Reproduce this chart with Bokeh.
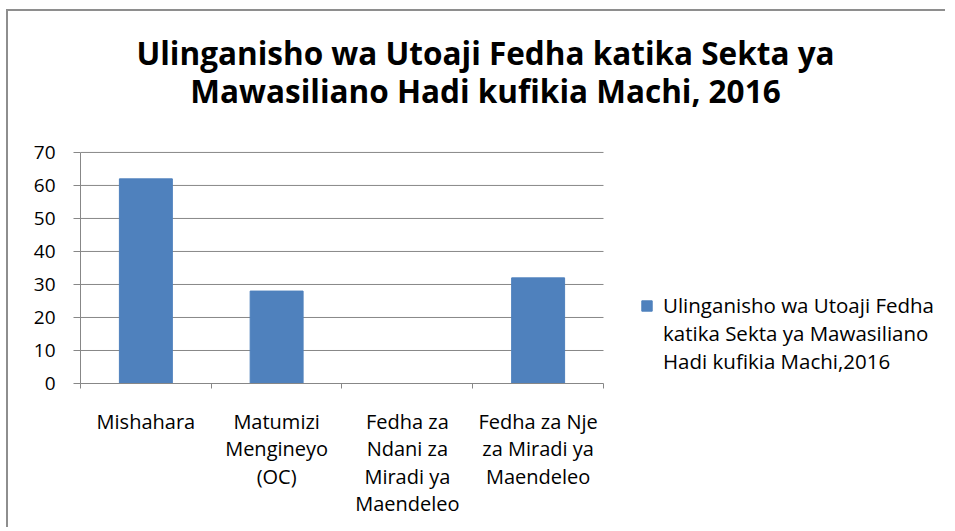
from bokeh.plotting import figure
from bokeh.models import (Range1d, FixedTicker, Label, Legend, LegendItem,
                          ColumnDataSource)
from bokeh.embed import file_html
from bokeh.resources import INLINE

categories = ["Mishahara",
              "Matumizi\nMengineyo\n(OC)",
              "Fedha za\nNdani za\nMiradi ya\nMaendeleo",
              "Fedha za Nje\nza Miradi ya\nMaendeleo"]
values = [62, 28, 0, 32]
y_ticks = [0, 10, 20, 30, 40, 50, 60, 70]
series_name = "Ulinganisho wa Utoaji Fedha\nkatika Sekta ya Mawasiliano\nHadi kufikia Machi,2016"
title_lines = ["Ulinganisho wa Utoaji Fedha katika Sekta ya",
               "Mawasiliano Hadi kufikia Machi, 2016"]

FONT = "Open Sans"
GRAY = "#878787"
BLUE = "#4f81bd"

n = len(categories)
centers = [i + 0.5 for i in range(n)]
edges = list(range(n + 1))
source = ColumnDataSource(data=dict(x=centers, val=values, cat=categories))

# frame: the plot area plus the free space to its right and above
p = figure(x_range=Range1d(0, 6.631), y_range=Range1d(0, 112.7),
           width=939, height=518, output_backend="svg", toolbar_location=None,
           min_border_left=72, min_border_right=0, min_border_top=0,
           min_border_bottom=146,
           styles={"margin-left": "6px", "margin-top": "9px",
                   "border-left": "2px solid #8e8e8e", "border-top": "2px solid #8e8e8e"})
p.outline_line_color = None
p.background_fill_color = "white"
p.border_fill_color = "white"
p.xgrid.grid_line_color = None
p.ygrid.grid_line_color = None

# horizontal gridlines over the category area only
p.segment(x0=0, x1=n, y0=y_ticks[1:], y1=y_ticks[1:], line_color=GRAY, line_width=1)

r = p.vbar(x="x", top="val", width=0.405, source=source,
           fill_color=BLUE, line_color=BLUE)

# y axis
p.yaxis.bounds = (y_ticks[0], y_ticks[-1])
p.yaxis.ticker = FixedTicker(ticks=y_ticks)
p.yaxis.major_tick_out = 7
p.yaxis.major_tick_in = 0
p.yaxis.minor_tick_line_color = None
p.yaxis.axis_line_color = GRAY
p.yaxis.major_tick_line_color = GRAY
p.yaxis.major_label_standoff = 18
p.yaxis.major_label_text_font = FONT
p.yaxis.major_label_text_font_size = "19px"
p.yaxis.major_label_text_color = "#000000"

# x axis: labels at category centres, tick marks at category boundaries
p.xaxis.bounds = (0, n)
p.xaxis.ticker = FixedTicker(ticks=centers, minor_ticks=edges)
p.xaxis.major_label_overrides = {c: lab for c, lab in zip(centers, categories)}
p.xaxis.axis_line_color = GRAY
p.xaxis.major_tick_line_color = None
p.xaxis.major_tick_out = 5
p.xaxis.minor_tick_line_color = GRAY
p.xaxis.minor_tick_out = 5
p.xaxis.minor_tick_in = 0
p.xaxis.major_label_text_font = FONT
p.xaxis.major_label_text_font_size = "20px"
p.xaxis.major_label_text_color = "#000000"
p.xaxis.major_label_text_line_height = 1.02
p.xaxis.major_label_standoff = 19

# title (two centred lines)
for txt, yy in zip(title_lines, [100.2, 88.8]):
    p.add_layout(Label(x=3.0975, y=yy, text=txt, text_align="center",
                       text_baseline="alphabetic", text_font=FONT,
                       text_font_style="bold", text_font_size="31.5px",
                       text_color="#000000"))

# legend: two empty leading lines keep the square level with the first text line
legend = Legend(items=[LegendItem(label="\n\n" + series_name, renderers=[r])],
                location=(560, 8), padding=0, margin=0, border_line_color=None,
                background_fill_alpha=0, glyph_width=13, glyph_height=13,
                label_standoff=10, label_text_font=FONT,
                label_text_font_size="20.5px", label_text_line_height=1.02,
                label_text_color="#000000")
p.add_layout(legend)

open("out.html", "w").write(file_html(p, INLINE))
